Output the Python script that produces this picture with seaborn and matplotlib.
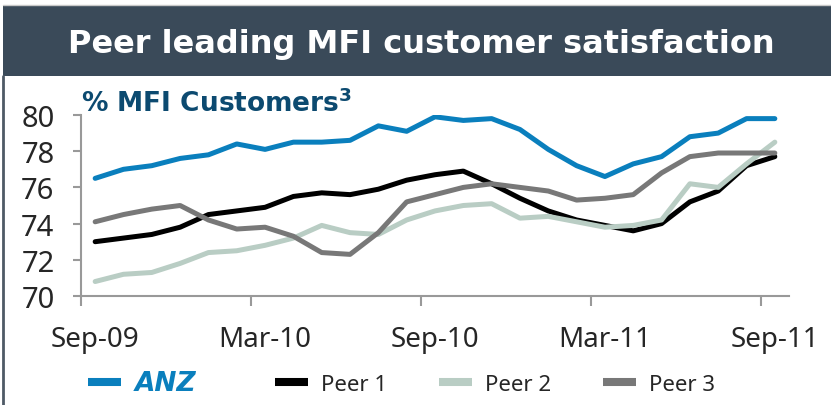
import numpy as np
import pandas as pd
import matplotlib
matplotlib.use("Agg")
import matplotlib.pyplot as plt
from matplotlib.patches import Rectangle
from matplotlib.lines import Line2D
import seaborn as sns

months = ["Sep-09", "Oct-09", "Nov-09", "Dec-09", "Jan-10", "Feb-10", "Mar-10", "Apr-10",
          "May-10", "Jun-10", "Jul-10", "Aug-10", "Sep-10", "Oct-10", "Nov-10", "Dec-10",
          "Jan-11", "Feb-11", "Mar-11", "Apr-11", "May-11", "Jun-11", "Jul-11", "Aug-11", "Sep-11"]
anz = [76.5, 77.0, 77.2, 77.6, 77.8, 78.4, 78.1, 78.5, 78.5, 78.6, 79.4, 79.1, 79.9,
       79.7, 79.8, 79.2, 78.1, 77.2, 76.6, 77.3, 77.7, 78.8, 79.0, 79.8, 79.8]
peer1 = [73.0, 73.2, 73.4, 73.8, 74.5, 74.7, 74.9, 75.5, 75.7, 75.6, 75.9, 76.4, 76.7,
         76.9, 76.2, 75.4, 74.7, 74.2, 73.9, 73.6, 74.0, 75.2, 75.8, 77.2, 77.7]
peer2 = [70.8, 71.2, 71.3, 71.8, 72.4, 72.5, 72.8, 73.2, 73.9, 73.5, 73.4, 74.2, 74.7,
         75.0, 75.1, 74.3, 74.4, 74.1, 73.8, 73.9, 74.2, 76.2, 76.0, 77.3, 78.5]
peer3 = [74.1, 74.5, 74.8, 75.0, 74.2, 73.7, 73.8, 73.3, 72.4, 72.3, 73.5, 75.2, 75.6,
         76.0, 76.2, 76.0, 75.8, 75.3, 75.4, 75.6, 76.8, 77.7, 77.9, 77.9, 77.9]
series_names = ["ANZ", "Peer 1", "Peer 2", "Peer 3"]
tick_labels = ["Sep-09", "Mar-10", "Sep-10", "Mar-11", "Sep-11"]
y_ticks = [70, 72, 74, 76, 78, 80]
subtitle = "% MFI Customers$^{\\mathbf{3}}$"
title = "Peer leading MFI customer satisfaction"

colors = ["#0a7fbd", "#000000", "#b9cdc4", "#787878"]

idx = np.arange(len(months))
df = pd.concat([
    pd.DataFrame({"idx": idx, "value": vals, "series": name})
    for name, vals in zip(series_names, [anz, peer1, peer2, peer3])
])

sns.set_style("white")
plt.rcParams['font.family'] = ['DejaVu Sans']
plt.rcParams['mathtext.fontset'] = 'dejavusans'

fig = plt.figure(figsize=(8.31, 4.06), dpi=100)
fig.patch.set_facecolor("white")

# header band
fig.add_artist(Rectangle((3/831, 1 - 77/406), 828/831, 70/406, transform=fig.transFigure,
                         facecolor="#3a4a59", edgecolor="none", zorder=0))
fig.add_artist(Line2D([3/831, 1], [1 - 6/406, 1 - 6/406], transform=fig.transFigure,
                      color="#c8c8c8", lw=1))
fig.add_artist(Line2D([3.5/831, 3.5/831], [0, 1 - 77/406], transform=fig.transFigure,
                      color="#4e5a66", lw=2))
fig.text(421/831, 1 - 44/406, title, color="white", fontsize=23, fontweight="bold",
         ha="center", va="center")

ax = fig.add_axes([81/831, 1 - 297/406, (789 - 81)/831, (297 - 116)/406])
sns.lineplot(data=df, x="idx", y="value", hue="series", palette=colors,
             hue_order=series_names, linewidth=3.6, ax=ax, legend=False, sort=False)
ax.set_xlim(-0.5, len(months) - 0.5)
ax.set_ylim(70, 80)
ax.set_yticks(y_ticks)
ax.set_yticklabels([str(v) for v in y_ticks], fontsize=21, family="Noto Sans")
ax.set_xticks(np.arange(-0.5, len(months), 6))
ax.set_xticklabels([])
ax.set_xticks(np.arange(0, len(months), 6), minor=True)
ax.set_xticklabels(tick_labels, minor=True, fontsize=20, family="Noto Sans")
ax.tick_params(axis="x", which="minor", length=0, pad=21, bottom=True)
ax.tick_params(axis="x", which="major", length=7, width=1.5, color="#999999",
               direction="out", bottom=True)
ax.tick_params(axis="y", length=6, width=1.5, color="#999999", direction="out",
               pad=13, left=True)
for s in ["top", "right"]:
    ax.spines[s].set_visible(False)
for s in ["left", "bottom"]:
    ax.spines[s].set_color("#999999")
    ax.spines[s].set_linewidth(1.5)
ax.set_xlabel("")
ax.set_ylabel("")
ax.set_facecolor("none")

fig.text(81/831, 1 - 104/406, subtitle, color="#0c4a70", fontsize=19, fontweight="bold",
         ha="left", va="center")

handles = [Line2D([], [], color=c, lw=5.8, solid_capstyle="butt") for c in colors]
labels = ["ANZ   "] + series_names[1:]
leg = fig.legend(handles, labels, loc="center left",
                 bbox_to_anchor=(88/831, 1 - 384/406), ncol=4, frameon=False,
                 prop={"family": "Noto Sans", "size": 16}, handlelength=1.5,
                 columnspacing=2.3, handletextpad=0.6, borderpad=0, borderaxespad=0)
t0 = leg.get_texts()[0]
t0.set_color("#0a7fbd")
t0.set_fontweight("bold")
t0.set_fontstyle("italic")
t0.set_fontsize(19)
t0.set_family("DejaVu Sans")

fig.savefig("out.png", dpi=100)
